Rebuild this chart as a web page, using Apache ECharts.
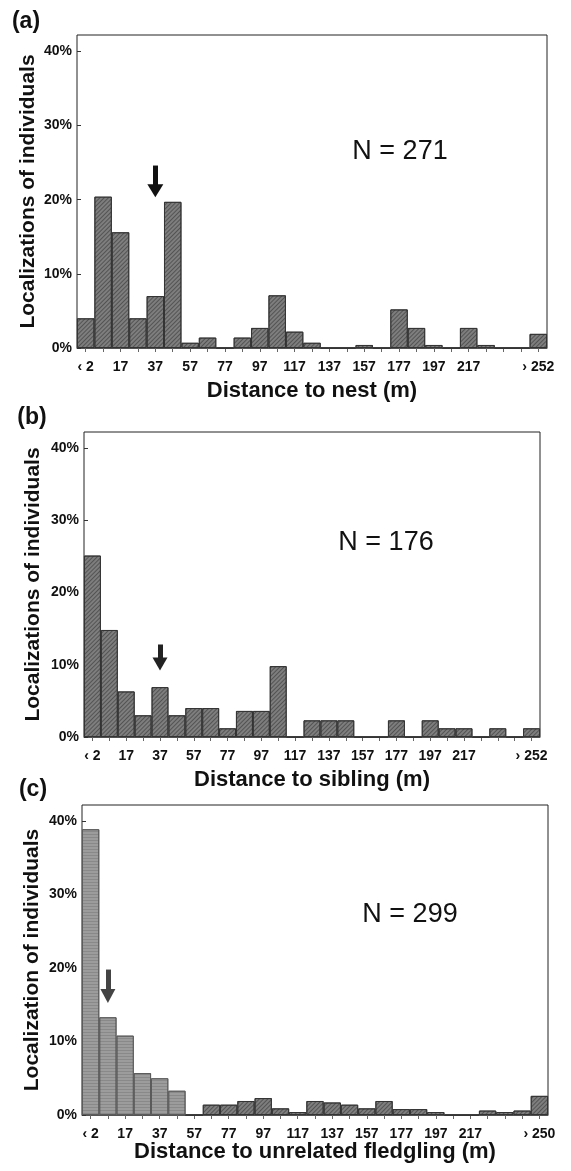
<!DOCTYPE html>
<html>
<head>
<meta charset="utf-8">
<script src="https://cdn.jsdelivr.net/npm/echarts@6/dist/echarts.min.js"></script>
<style>
html,body{margin:0;padding:0;background:#fff;}
#chart{width:571px;height:1171px;}
</style>
</head>
<body>
<div id="chart"></div>
<script>
// ---- data ----
const binsA = ['< 2','7','17','27','37','47','57','67','77','87','97','107','117','127','137','147','157','167','177','187','197','207','217','227','237','247','> 252'];
const binsC = ['< 2','7','17','27','37','47','57','67','77','87','97','107','117','127','137','147','157','167','177','187','197','207','217','227','237','247','> 250'];
const tickLabelsA = ['‹ 2','','17','','37','','57','','77','','97','','117','','137','','157','','177','','197','','217','','','','› 252'];
const tickLabelsB = ['‹ 2','','17','','37','','57','','77','','97','','117','','137','','157','','177','','197','','217','','','','› 252'];
const tickLabelsC = ['‹ 2','','17','','37','','57','','77','','97','','117','','137','','157','','177','','197','','217','','','','› 250'];
const yTicks = [0, 10, 20, 30, 40];

// percent of localizations per distance class
const nestPct      = [4.0,20.4,15.6,4.0,7.0,19.7,0.7,1.4,0,1.4,2.7,7.1,2.2,0.7,0,0,0.4,0,5.2,2.7,0.4,0,2.7,0.4,0,0,1.9];
const siblingPct   = [25.1,14.8,6.3,3.0,6.9,3.0,4.0,4.0,1.2,3.6,3.6,9.8,0,2.3,2.3,2.3,0,0,2.3,0,2.3,1.2,1.2,0,1.2,0,1.2];
const unrelatedPct = [38.9,13.3,10.8,5.7,5.0,3.3,0,1.4,1.4,1.9,2.3,0.9,0.4,1.9,1.7,1.4,0.9,1.9,0.8,0.8,0.4,0,0,0.6,0.4,0.6,2.6];

const nLabels = ['N = 271', 'N = 176', 'N = 299'];
const panelLetters = ['(a)', '(b)', '(c)'];
const xNames = ['Distance to nest (m)', 'Distance to sibling (m)', 'Distance to unrelated fledgling (m)'];
const yNames = ['Localizations of individuals', 'Localizations of individuals', 'Localization of individuals'];

// arrows: [bin index, tail value, head value]
const arrowA = [4, 24.6, 21.2];
const arrowB = [4, 12.8, 10.1];
const arrowC = [1, 19.8, 16.2];
const lightBinsC = 6; // first classes drawn with lighter fill in (c)

// ---- styles ----
const FONT = '"Liberation Sans", Arial, Helvetica, sans-serif';
const darkStyle = {
  color: '#7e7e7e',
  borderColor: '#333',
  borderWidth: 0.9,
  decal: { symbol: 'rect', symbolSize: 1, dashArrayX: [1, 0], dashArrayY: [1, 1.6], rotation: -Math.PI / 4, color: 'rgba(30,30,30,0.45)' }
};
const lightStyle = {
  color: '#9c9c9c',
  borderColor: '#5a5a5a',
  borderWidth: 0.9,
  decal: { symbol: 'rect', symbolSize: 1, dashArrayX: [1, 0], dashArrayY: [1, 2], rotation: 0, color: 'rgba(70,70,70,0.22)' }
};

const grids = [
  { left: 77, top: 35, width: 470, height: 313 },
  { left: 84, top: 432, width: 456, height: 305 },
  { left: 82, top: 805, width: 466, height: 310 }
];
const xNameGaps = [32, 32, 26];
const yNameGaps = [38, 40, 39];

const tickSets = [tickLabelsA, tickLabelsB, tickLabelsC];
const catSets = [binsA, binsA, binsC];

const xAxes = grids.map((g, i) => ({
  type: 'category', gridIndex: i, data: catSets[i], boundaryGap: true,
  axisLine: { show: true, lineStyle: { color: '#555', width: 1 } },
  axisTick: { show: true, alignWithLabel: true, interval: 0, length: 4, lineStyle: { color: '#666', width: 1 } },
  axisLabel: { interval: 0, margin: 12, fontFamily: FONT, fontSize: 14, fontWeight: 'bold', color: '#111',
    formatter: (v, idx) => tickSets[i][idx] },
  name: xNames[i], nameLocation: 'middle', nameGap: xNameGaps[i], nameMoveOverlap: false,
  nameTextStyle: { fontFamily: FONT, fontSize: 22, fontWeight: 'bold', color: '#111' },
  splitLine: { show: false }
}));

const yAxes = grids.map((g, i) => ({
  type: 'value', gridIndex: i, min: 0, max: 42.2, interval: 10,
  axisLine: { show: false },
  axisTick: { show: true, inside: true, length: 4, lineStyle: { color: '#333' } },
  axisLabel: { margin: 5, fontFamily: FONT, fontSize: 14, fontWeight: 'bold', color: '#111',
    showMaxLabel: false,
    formatter: v => (yTicks.indexOf(v) >= 0 ? v + '%' : '') },
  splitLine: { show: false },
  name: yNames[i], nameLocation: 'middle', nameGap: yNameGaps[i], nameRotate: 90, nameMoveOverlap: false,
  nameTextStyle: { fontFamily: FONT, fontSize: 21, fontWeight: 'bold', color: '#111' }
}));

function arrowLine(a, color, size) {
  return {
    silent: true, animation: false,
    symbol: ['none', 'triangle'], symbolSize: size,
    label: { show: false },
    lineStyle: { color: color, width: 5, type: 'solid', opacity: 1 },
    emphasis: { disabled: true },
    data: [[{ coord: [a[0], a[1]] }, { coord: [a[0], a[2]] }]]
  };
}

const series = [
  { type: 'bar', xAxisIndex: 0, yAxisIndex: 0, barCategoryGap: '0%',
    data: nestPct.map(v => ({ value: v, itemStyle: darkStyle })),
    markLine: arrowLine(arrowA, '#111', [16, 13]) },
  { type: 'bar', xAxisIndex: 1, yAxisIndex: 1, barCategoryGap: '0%',
    data: siblingPct.map(v => ({ value: v, itemStyle: darkStyle })),
    markLine: arrowLine(arrowB, '#222', [15, 13]) },
  { type: 'bar', xAxisIndex: 2, yAxisIndex: 2, barCategoryGap: '0%',
    data: unrelatedPct.map((v, k) => ({ value: v, itemStyle: k < lightBinsC ? lightStyle : darkStyle })),
    markLine: arrowLine(arrowC, '#444', [15, 14]) }
];

const letterPos = [[26, 22], [32, 418], [33, 790]];
const nPos = [[400, 152], [386, 543], [410, 915]];
const graphics = [];
panelLetters.forEach((t, i) => graphics.push({
  type: 'text', x: letterPos[i][0], y: letterPos[i][1], silent: true,
  style: { text: t, font: 'bold 23px ' + FONT, fill: '#111', textAlign: 'center', textVerticalAlign: 'middle' }
}));
nLabels.forEach((t, i) => graphics.push({
  type: 'text', x: nPos[i][0], y: nPos[i][1], silent: true,
  style: { text: t, font: '27px ' + FONT, fill: '#111', textAlign: 'center', textVerticalAlign: 'middle' }
}));

const chart = echarts.init(document.getElementById('chart'), null, { renderer: 'canvas' });
chart.setOption({
  animation: false,
  backgroundColor: '#fff',
  grid: grids.map(g => Object.assign({ show: true, borderColor: '#222', borderWidth: 1, backgroundColor: 'transparent', containLabel: false }, g)),
  xAxis: xAxes,
  yAxis: yAxes,
  series: series,
  graphic: graphics
});
</script>
</body>
</html>
